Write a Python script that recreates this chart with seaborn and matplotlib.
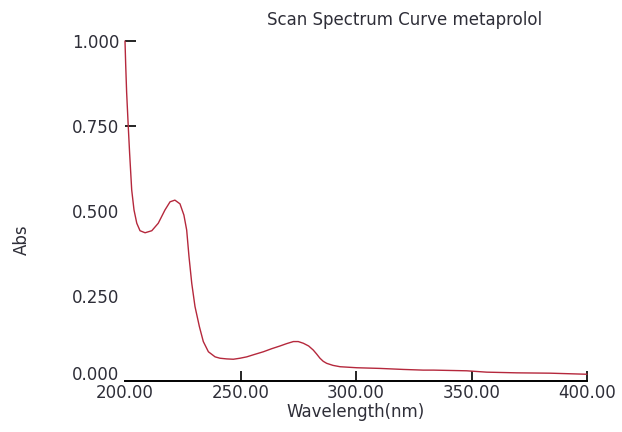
import matplotlib
matplotlib.use("Agg")
import matplotlib.pyplot as plt
import matplotlib.transforms as mtransforms
import seaborn as sns
import pandas as pd
from matplotlib.ticker import FormatStrFormatter

wavelength = [200.0, 200.3, 200.7, 201.4, 202.0, 202.5, 202.9, 203.9, 205.1, 206.5,
              208.7, 211.6, 214.4, 217.3, 219.5, 221.6, 223.8, 225.5, 226.7, 227.7,
              228.9, 230.3, 232.2, 233.9, 236.1, 239.0, 241.1, 244.0, 246.9, 249.8,
              252.7, 256.0, 259.9, 263.5, 267.1, 270.0, 272.9, 275.0, 277.2, 279.5,
              281.5, 283.0, 284.4, 285.8, 287.3, 290.0, 293.1, 300.3, 310.4, 320.5,
              329.1, 333.5, 347.9, 356.6, 369.6, 384.0, 399.1, 400.0]
absorbance = [1.000, 0.930, 0.850, 0.750, 0.670, 0.610, 0.562, 0.503, 0.464, 0.442,
              0.436, 0.442, 0.464, 0.503, 0.527, 0.532, 0.521, 0.488, 0.444, 0.366,
              0.287, 0.219, 0.160, 0.116, 0.086, 0.071, 0.067, 0.065, 0.064, 0.067,
              0.071, 0.078, 0.086, 0.095, 0.103, 0.110, 0.116, 0.116, 0.111, 0.103,
              0.091, 0.079, 0.067, 0.058, 0.052, 0.046, 0.042, 0.039, 0.037, 0.034,
              0.032, 0.032, 0.030, 0.026, 0.024, 0.023, 0.020, 0.020]
x_ticks = [200, 250, 300, 350, 400]
y_ticks = [0.0, 0.25, 0.5, 0.75, 1.0]
title = "Scan Spectrum Curve metaprolol"
x_label = "Wavelength(nm)"
y_label = "Abs"

sns.set_style("white")
plt.rcParams['font.family'] = ['DejaVu Sans']

df = pd.DataFrame({"wl": wavelength, "abs": absorbance})

fig = plt.figure(figsize=(6.22, 4.32), dpi=100)
ax = fig.add_axes([125/622, 51/432, 462/622, 340/432])
sns.lineplot(data=df, x="wl", y="abs", ax=ax, color="#b5283c", linewidth=1.0,
             estimator=None, sort=False)
ax.lines[0].set_clip_on(False)

ax.set_xlim(200, 400)
ax.set_ylim(0, 1.0)
ax.set_xticks(x_ticks)
ax.set_yticks(y_ticks)
ax.xaxis.set_major_formatter(FormatStrFormatter('%.2f'))
ax.yaxis.set_major_formatter(FormatStrFormatter('%.3f'))

for s in ['top', 'right', 'left']:
    ax.spines[s].set_visible(False)
ax.spines['bottom'].set_color('black')
ax.spines['bottom'].set_linewidth(1.4)

txtc = '#2e2e38'
fs = 12
ax.tick_params(axis='x', direction='in', length=7, width=1.2, color='black',
               labelsize=fs, labelcolor=txtc, pad=2, bottom=True)
ax.tick_params(axis='y', direction='in', length=8, width=1.2, color='black',
               labelsize=fs, labelcolor=txtc, pad=4, left=True)
for t, v in zip(ax.yaxis.get_major_ticks(), y_ticks):
    if v < 0.7:
        t.tick1line.set_visible(False)
ax.xaxis.get_major_ticks()[0].tick1line.set_visible(False)

# the 0.000 label sits slightly above the axis line in the reference
offset = mtransforms.ScaledTranslation(0, 8/100, fig.dpi_scale_trans)
lbl0 = ax.yaxis.get_major_ticks()[0].label1
lbl0.set_transform(lbl0.get_transform() + offset)

ax.set_xlabel(x_label, fontsize=fs, color=txtc, labelpad=1)
ax.set_ylabel("")
fig.text(22/622, 1 - 240/432, y_label, rotation=90, fontsize=fs, color=txtc,
         ha='center', va='center')
fig.text(405/622, 1 - 20/432, title, fontsize=fs, color=txtc,
         ha='center', va='center')

fig.savefig("out.png", dpi=100)
